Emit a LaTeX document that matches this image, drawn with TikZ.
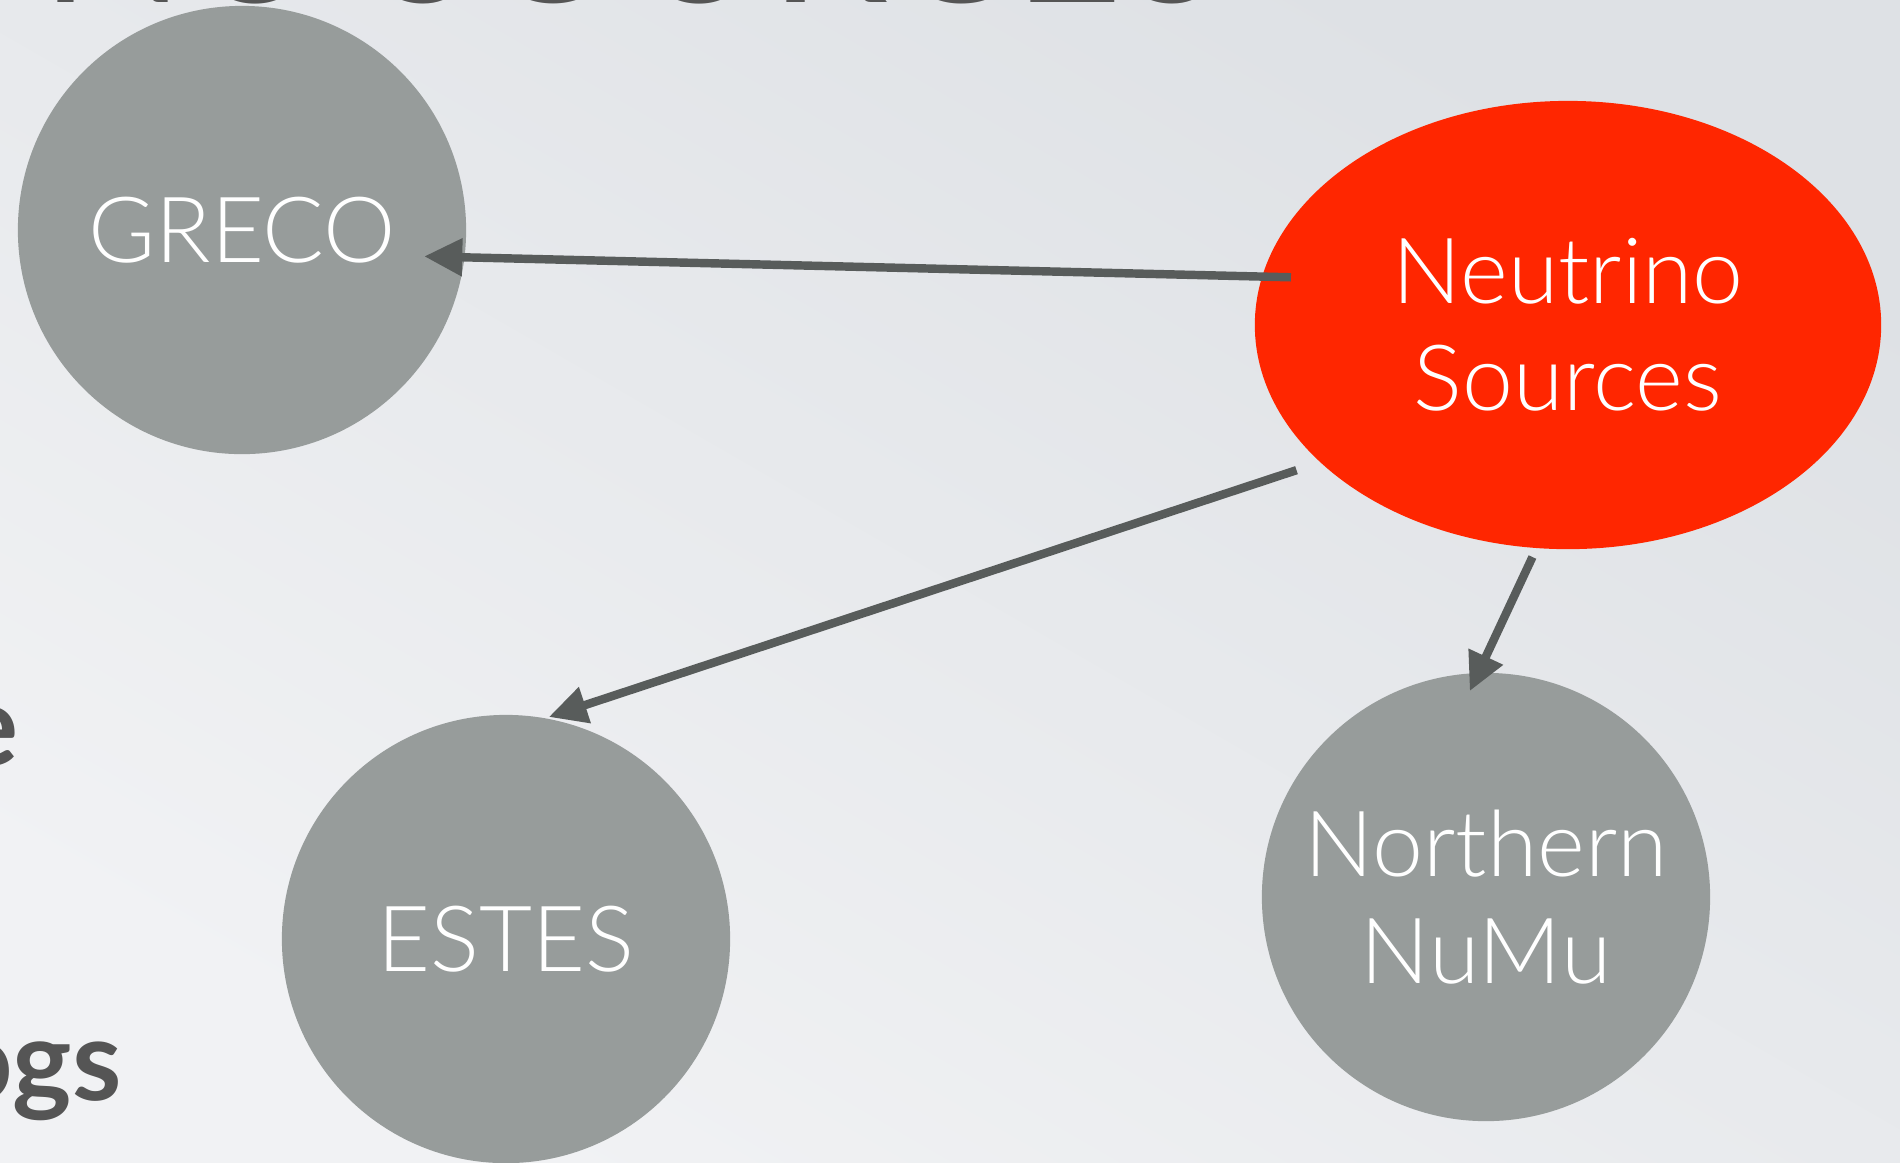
\documentclass[tikz,border=0pt]{standalone}
\usepackage{fontspec}
\setmainfont{Lato}
\newfontfamily\lightfont{Lato Light}
\usetikzlibrary{shapes.geometric,arrows.meta}

\definecolor{bgtop}{RGB}{222,225,229}
\definecolor{bgbottom}{RGB}{241,242,244}
\definecolor{samplegrey}{RGB}{151,156,155}
\definecolor{nured}{RGB}{255,38,0}
\definecolor{arrowgrey}{RGB}{88,92,91}
\definecolor{bodygrey}{RGB}{85,85,85}

\tikzstyle{sample} = [circle, fill=samplegrey, minimum size=4.48cm, inner sep=0pt, outer sep=0pt, text=white, align=center, font=\lightfont\fontsize{26}{30.5}\selectfont]
\tikzstyle{source} = [ellipse, fill=nured, minimum width=6.26cm, minimum height=4.48cm, inner sep=0pt, outer sep=0pt, text=white, align=center, font=\lightfont\fontsize{26}{30.5}\selectfont]
\tikzstyle{feed} = [draw=arrowgrey, line width=2.4pt, -{Triangle[length=0.38cm, width=0.36cm]}]
\tikzstyle{body} = [text=bodygrey, inner sep=0pt, anchor=base east, font=\bfseries\fontsize{32}{38}\selectfont]
\tikzstyle{title} = [text=bodygrey, inner sep=0pt, anchor=base west, font=\fontsize{54}{60}\selectfont]

\begin{document}
\begin{tikzpicture}[x=0.01cm, y=0.01cm]
    \useasboundingbox (0,0) rectangle (1900,-1162);
    \clip (0,0) rectangle (1900,-1162);
    \shade[top color=bgtop, bottom color=bgbottom, shading angle=-30] (0,0) rectangle (1900,-1162);

    \node[title] (head) at (40,-2) {NU SOURCES};
    \node[body] (word1) at (19,-765) {e};
    \node[body] (word2) at (122,-1100) {ogs};

    \node[sample] (greco) at (242,-230) {GRECO};
    \node[source] (nu) at (1568,-325) {Neutrino\\Sources};
    \node[sample] (estes) at (506,-939) {ESTES};
    \node[sample] (numu) at (1486,-897) {Northern\\NuMu};

    \draw[feed, shorten <=-0.287cm, shorten >=-0.4025cm] (nu.171.7) -- (greco.-7.2);
    \draw[feed, shorten <=0.252cm, shorten >=0.0415cm] (nu.209.9) -- (estes.80.1);
    \draw[feed, shorten <=0.0995cm, shorten >=-0.199cm] (nu.262.7) -- (numu.92);
\end{tikzpicture}
\end{document}
